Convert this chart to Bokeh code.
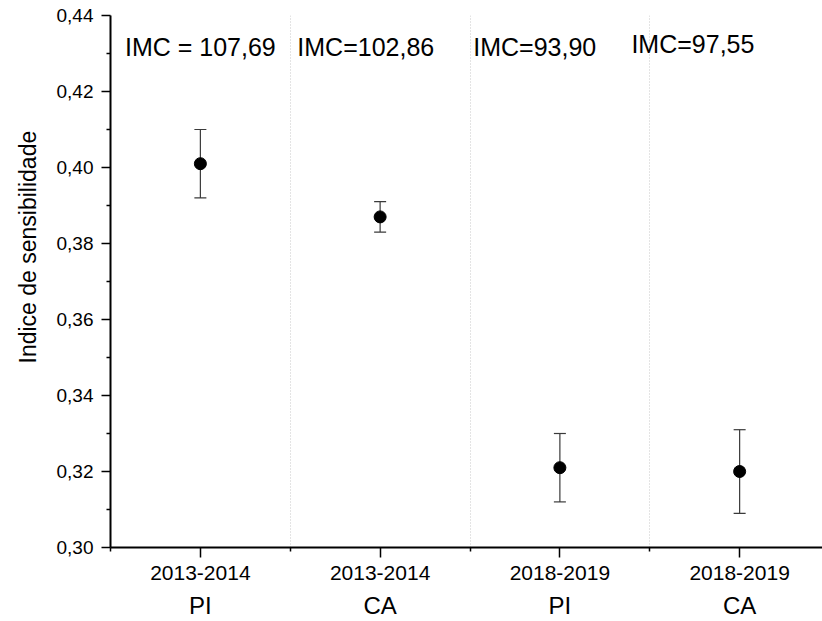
import math
from bokeh.plotting import figure
from bokeh.models import (FixedTicker, LinearAxis, Whisker, ColumnDataSource,
                          Title, TeeHead, Range1d)
from bokeh.core.properties import value
from bokeh.embed import file_html
from bokeh.resources import INLINE

# ---- data ----
periods = ["2013-2014", "2013-2014", "2018-2019", "2018-2019"]
groups = ["PI", "CA", "PI", "CA"]
means = [0.401, 0.387, 0.321, 0.320]
lower = [0.392, 0.383, 0.312, 0.309]
upper = [0.410, 0.391, 0.330, 0.331]
imc_labels = ["IMC = 107,69", "IMC=102,86", "IMC=93,90", "IMC=97,55"]
imc_x = [1.0, 1.92, 2.86, 3.74]
imc_y = [0.4318, 0.4318, 0.4318, 0.4326]
y_ticks = [0.30, 0.32, 0.34, 0.36, 0.38, 0.40, 0.42, 0.44]
y_tick_labels = ["0,30", "0,32", "0,34", "0,36", "0,38", "0,40", "0,42", "0,44"]
y_title = "Indice de sensibilidade"

FONT = "Liberation Sans"
xs = list(range(1, len(means) + 1))

p = figure(width=822, height=621, output_backend="svg", toolbar_location=None,
           x_range=Range1d(0.5, 4.461), y_range=Range1d(0.30, 0.44),
           min_border_left=109, min_border_top=15, min_border_right=0,
           min_border_bottom=74)
p.outline_line_color = None
p.background_fill_color = "white"
p.border_fill_color = "white"

# grid
p.ygrid.grid_line_color = None
p.xgrid.ticker = FixedTicker(ticks=[1.5, 2.5, 3.5])
p.xgrid.grid_line_color = "#c8c8c8"
p.xgrid.grid_line_dash = "1 2"
p.xgrid.grid_line_width = 1

# y axis
ya = p.yaxis[0]
ya.ticker = FixedTicker(ticks=y_ticks, minor_ticks=[t + 0.01 for t in y_ticks[:-1]])
ya.major_label_overrides = {t: l for t, l in zip(y_ticks, y_tick_labels)}
ya.major_label_text_font = FONT
ya.major_label_text_font_size = "19px"
ya.major_label_text_color = "black"
ya.major_tick_out = 9
ya.major_tick_in = 0
ya.minor_tick_out = 4
ya.minor_tick_in = 0
ya.axis_line_width = 2
ya.major_tick_line_width = 1.5
ya.minor_tick_line_width = 1.5
ya.major_label_standoff = 8

# y title, placed in the left panel
p.add_layout(Title(text=y_title, align="left", offset=184, standoff=25,
                   text_font=FONT, text_font_size="23px",
                   text_font_style="normal", text_color="black"), "left")

# x axis (period labels)
xa = p.xaxis[0]
xa.ticker = FixedTicker(ticks=xs, minor_ticks=[0.5, 1.5, 2.5, 3.5, 4.5])
xa.major_label_overrides = {x: l for x, l in zip(xs, periods)}
xa.major_label_text_font = FONT
xa.major_label_text_font_size = "21px"
xa.major_label_text_color = "black"
xa.major_tick_out = 10
xa.major_tick_in = 0
xa.minor_tick_out = 4
xa.minor_tick_in = 0
xa.axis_line_width = 2
xa.major_tick_line_width = 1.5
xa.minor_tick_line_width = 1.5
xa.major_label_standoff = 8

# second x axis (group labels)
xa2 = LinearAxis(ticker=FixedTicker(ticks=xs, minor_ticks=[]))
xa2.major_label_overrides = {x: l for x, l in zip(xs, groups)}
xa2.major_label_text_font = FONT
xa2.major_label_text_font_size = "24px"
xa2.major_label_text_color = "black"
xa2.axis_line_color = None
xa2.major_tick_line_color = None
xa2.minor_tick_line_color = None
xa2.major_tick_out = 0
xa2.major_label_standoff = 9
p.add_layout(xa2, "below")

# error bars
src = ColumnDataSource(dict(x=xs, m=means, lo=lower, hi=upper))
wh = Whisker(source=src, base="x", lower="lo", upper="hi",
             line_color="#3a3a3a", line_width=1.2,
             lower_head=TeeHead(size=12, line_color="#3a3a3a", line_width=1.2),
             upper_head=TeeHead(size=12, line_color="#3a3a3a", line_width=1.2))
p.add_layout(wh)
p.scatter("x", "m", source=src, size=12, color="black")

# IMC annotations
p.text(x=imc_x, y=imc_y, text=imc_labels, text_font=value(FONT),
       text_font_size="25px", text_align="center", text_baseline="alphabetic",
       text_color="black")

open("out.html", "w").write(file_html(p, INLINE))
